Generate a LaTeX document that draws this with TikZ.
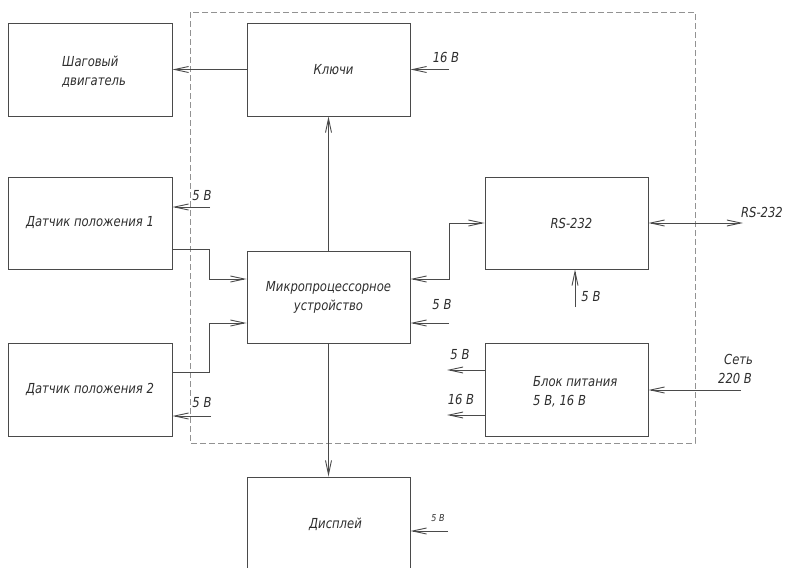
\documentclass[tikz,border=0pt]{standalone}
\usepackage{fontspec}
\setmainfont{DejaVu Sans}[FakeStretch=0.84]
\usetikzlibrary{arrows.meta}
\definecolor{ln}{HTML}{4A4A4A}
\definecolor{tx}{HTML}{2E2E2E}
\begin{document}
\begin{tikzpicture}[x=1pt,y=-1pt,
  box/.style={draw=ln, line width=0.9pt, minimum width=163pt, minimum height=92pt, inner sep=0pt,
    font=\fontsize{13.8}{19}\selectfont\itshape, text=tx, align=center},
  txt/.style={font=\fontsize{13.8}{19}\selectfont\itshape, text=tx, inner sep=0pt},
  small/.style={font=\fontsize{9.5}{11}\selectfont\itshape, text=tx, inner sep=0pt},
  arr/.style={draw=ln, line width=0.9pt, -{Straight Barb[length=14pt,width=6pt]}},
  darr/.style={draw=ln, line width=0.9pt, {Straight Barb[length=14pt,width=6pt]}-{Straight Barb[length=14pt,width=6pt]}},
  frame/.style={draw=ln!60, line width=0.7pt, dash pattern=on 6pt off 3pt}]
\useasboundingbox (0,0) rectangle (788,568);
\begin{scope}
\clip (0,0) rectangle (788,568);
% dashed frame
\draw[frame] (190,12) rectangle (695,443);
% boxes
\node[box, minimum width=164pt, minimum height=93pt] (shag) at (90,69.5) {};
\node[txt, align=left, anchor=west] (shagt) at (62,72) {Шаговый\\двигатель};
\node[box, minimum height=93pt] (kl) at (328.5,69.5) {\hspace*{10pt}Ключи};
\node[box, minimum width=164pt] (d1) at (90,223) {Датчик положения 1};
\node[box, minimum width=164pt, minimum height=93pt] (d2) at (90,389.5) {Датчик положения 2};
\node[box] (mp) at (328.5,297) {Микропроцессорное\\устройство};
\node[box] (rs) at (566.5,223) {\hspace*{10pt}RS-232};
\node[box, minimum height=93pt] (bp) at (566.5,389.5) {};
\node[txt, align=left, anchor=west] (bpt) at (533,392) {Блок питания\\5 В, 16 В};
\node[box, minimum height=94pt] (disp) at (328.5,524) {\hspace*{14pt}Дисплей};
% connectors
\draw[arr] (kl.west) -- (shag.east);
\draw[arr] (mp.north) -- (kl.south);
\draw[arr] (mp.south) -- (disp.north);
\coordinate (k16) at (449,69.5);
\draw[arr] (k16) -- (kl.east);
\node[txt] (k16t) at (446,57) {16 В};
% sensor 1
\coordinate (d1p) at (210,207);
\draw[arr] (d1p) -- (d1.east |- d1p);
\node[txt] (d1pt) at (202,196) {5 В};
\draw[arr] (d1.east |- 0,249) -- (209,249) -- (209,279) -- (mp.west |- 0,279);
% sensor 2
\draw[arr] (d2.east |- 0,372) -- (209,372) -- (209,323) -- (mp.west |- 0,323);
\coordinate (d2p) at (211,416);
\draw[arr] (d2p) -- (d2.east |- d2p);
\node[txt] (d2pt) at (202,403) {5 В};
% mp <-> rs
\draw[darr] (mp.east |- 0,279) -- (449,279) -- (449,223) -- (rs.west);
\coordinate (mpp) at (449,323);
\draw[arr] (mpp) -- (mp.east |- mpp);
\node[txt] (mppt) at (442,305) {5 В};
% rs power
\coordinate (rsp) at (575,307);
\draw[arr] (rsp) -- (rs.south -| rsp);
\node[txt] (rspt) at (591,297) {5 В};
% rs external
\coordinate (rsx) at (743,223);
\draw[darr] (rs.east) -- (rsx);
\node[txt] (rsxt) at (762,212) {RS-232};
% power outputs
\coordinate (bp5) at (447,370);
\coordinate (bp16) at (447,415);
\draw[arr] (bp.west |- bp5) -- (bp5);
\draw[arr] (bp.west |- bp16) -- (bp16);
\node[txt] (bp5t) at (460,355) {5 В};
\node[txt] (bp16t) at (461,399) {16 В};
% mains
\coordinate (net) at (741,390);
\draw[arr] (net) -- (bp.east |- net);
\node[txt, align=left, anchor=west] (nett) at (718,369) {\hspace*{6pt}Сеть\\220 В};
% display power
\coordinate (dp) at (448,531);
\draw[arr] (dp) -- (disp.east |- dp);
\node[small] (dpt) at (438,518) {5 В};
\end{scope}
\end{tikzpicture}
\end{document}
